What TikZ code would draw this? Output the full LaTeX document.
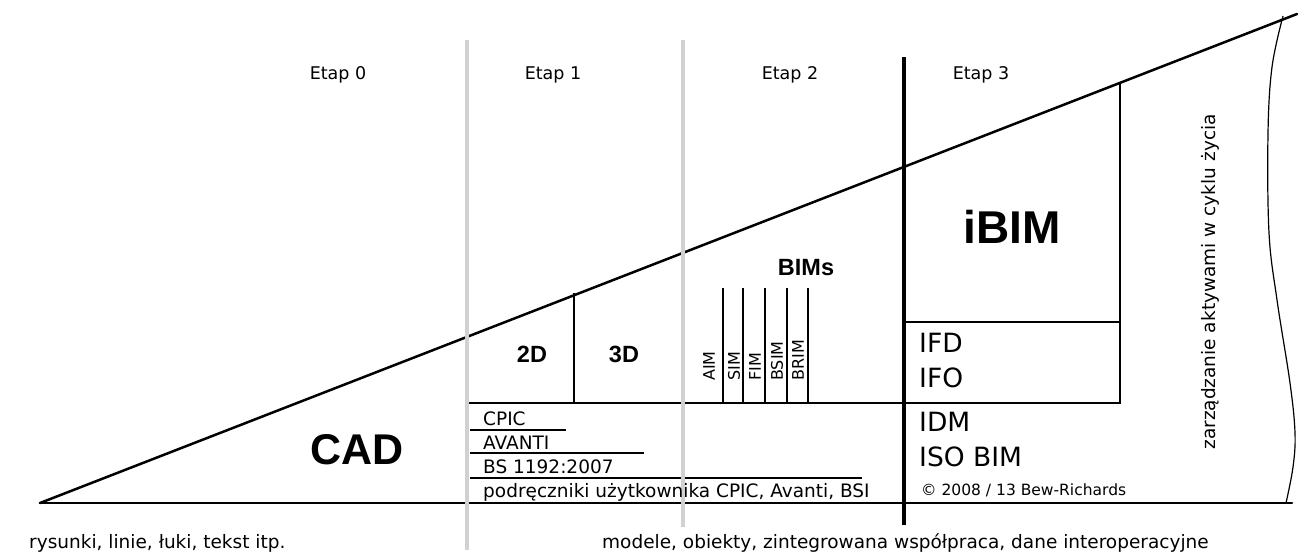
\documentclass[tikz,border=0pt]{standalone}
\usepackage{fontspec}
\setmainfont{DejaVu Sans}
\newfontfamily\boldfam{Liberation Sans}
\begin{document}
\begin{tikzpicture}[x=1pt,y=-1pt,
  mainline/.style={line width=2.5pt,line cap=round},
  midline/.style={line width=2pt},
  thinline/.style={line width=1.5pt},
  greyline/.style={line width=4pt,draw=black!18},
  blackbar/.style={line width=4.5pt},
  txt/.style={inner sep=0pt,font=\fontsize{17.5}{20}\selectfont},
  small/.style={inner sep=0pt,anchor=west,font=\fontsize{18.5}{21}\selectfont},
  bigb/.style={inner sep=0pt,font=\boldfam\bfseries\fontsize{23.5}{28}\selectfont},
  med/.style={inner sep=0pt,anchor=west,font=\fontsize{26.5}{30}\selectfont},
  vlab/.style={inner sep=0pt,rotate=90,anchor=west,font=\fontsize{16}{18}\selectfont}]
\useasboundingbox (0,0) rectangle (1305,557);
% main triangle
\coordinate (L) at (40,503);
\coordinate (R) at (1297,14);
\coordinate (BR) at (1292,503);
\draw[mainline] (L) -- (R);
\draw[mainline] (L) -- (BR);
% wavy right edge
\draw[line width=1.2pt] plot[smooth,tension=0.6] coordinates {(1283,16) (1272,67) (1268,133) (1269,233) (1277,300) (1290,383) (1295,433) (1293,467) (1286,503)};
% inner structure
\draw[midline] (574,293) -- (574,403);
\draw[mainline,line cap=butt] (468,403) -- (1121,403);
\draw[midline] (904,322) -- (1121,322);
\draw[midline] (1120,82) -- (1120,404);
\foreach \x in {723,743,765,787,808} \draw[thinline] (\x,288) -- (\x,403);
\draw[thinline] (470,430) -- (566,430);
\draw[thinline] (470,453) -- (644,453);
\draw[thinline] (470,478) -- (862,478);
% separators
\draw[greyline] (467,40) -- (467,550);
\draw[greyline] (683,40) -- (683,527);
\draw[blackbar] (904,57) -- (904,525);
% stage labels
\node[txt] (e0) at (338,75) {Etap 0};
\node[txt] (e1) at (553,75) {Etap 1};
\node[txt] (e2) at (790,75) {Etap 2};
\node[txt] (e3) at (981,75) {Etap 3};
% big labels
\node[inner sep=0pt,font=\boldfam\bfseries\fontsize{43}{48}\selectfont] (cad) at (357,450) {CAD};
\node[inner sep=0pt,font=\boldfam\bfseries\fontsize{46}{52}\selectfont] (ibim) at (1012,227) {iBIM};
\node[bigb] (d2) at (532,354) {2D};
\node[bigb] (d3) at (624,354) {3D};
\node[bigb] (bims) at (806,268) {BIMs};
% BIM types
\node[vlab] (aim) at (709,381) {AIM};
\node[vlab] (sim) at (734,381) {SIM};
\node[vlab] (fim) at (755,381) {FIM};
\node[vlab] (bsim) at (777,381) {BSIM};
\node[vlab] (brim) at (798,381) {BRIM};
% lists
\node[small] (cpic) at (483,419) {CPIC};
\node[small] (avanti) at (483,443) {AVANTI};
\node[small] (bs) at (483,467) {BS 1192:2007};
\node[small] (podr) at (483,492) {podręczniki użytkownika CPIC, Avanti, BSI};
\node[med] (ifd) at (919,343) {IFD};
\node[med] (ifo) at (919,378) {IFO};
\node[med] (idm) at (919,422) {IDM};
\node[med] (iso) at (919,457) {ISO BIM};
\node[small,font=\fontsize{15.5}{18}\selectfont] (copy) at (921,490) {© 2008 / 13 Bew-Richards};
% captions
\node[small] (cap1) at (29,543) {rysunki, linie, łuki, tekst itp.};
\node[small] (cap2) at (602,543) {modele, obiekty, zintegrowana współpraca, dane interoperacyjne};
\node[txt,rotate=90,font=\fontsize{18.5}{21}\selectfont] (zarz) at (1210,282) {zarządzanie aktywami w cyklu życia};
\end{tikzpicture}
\end{document}
